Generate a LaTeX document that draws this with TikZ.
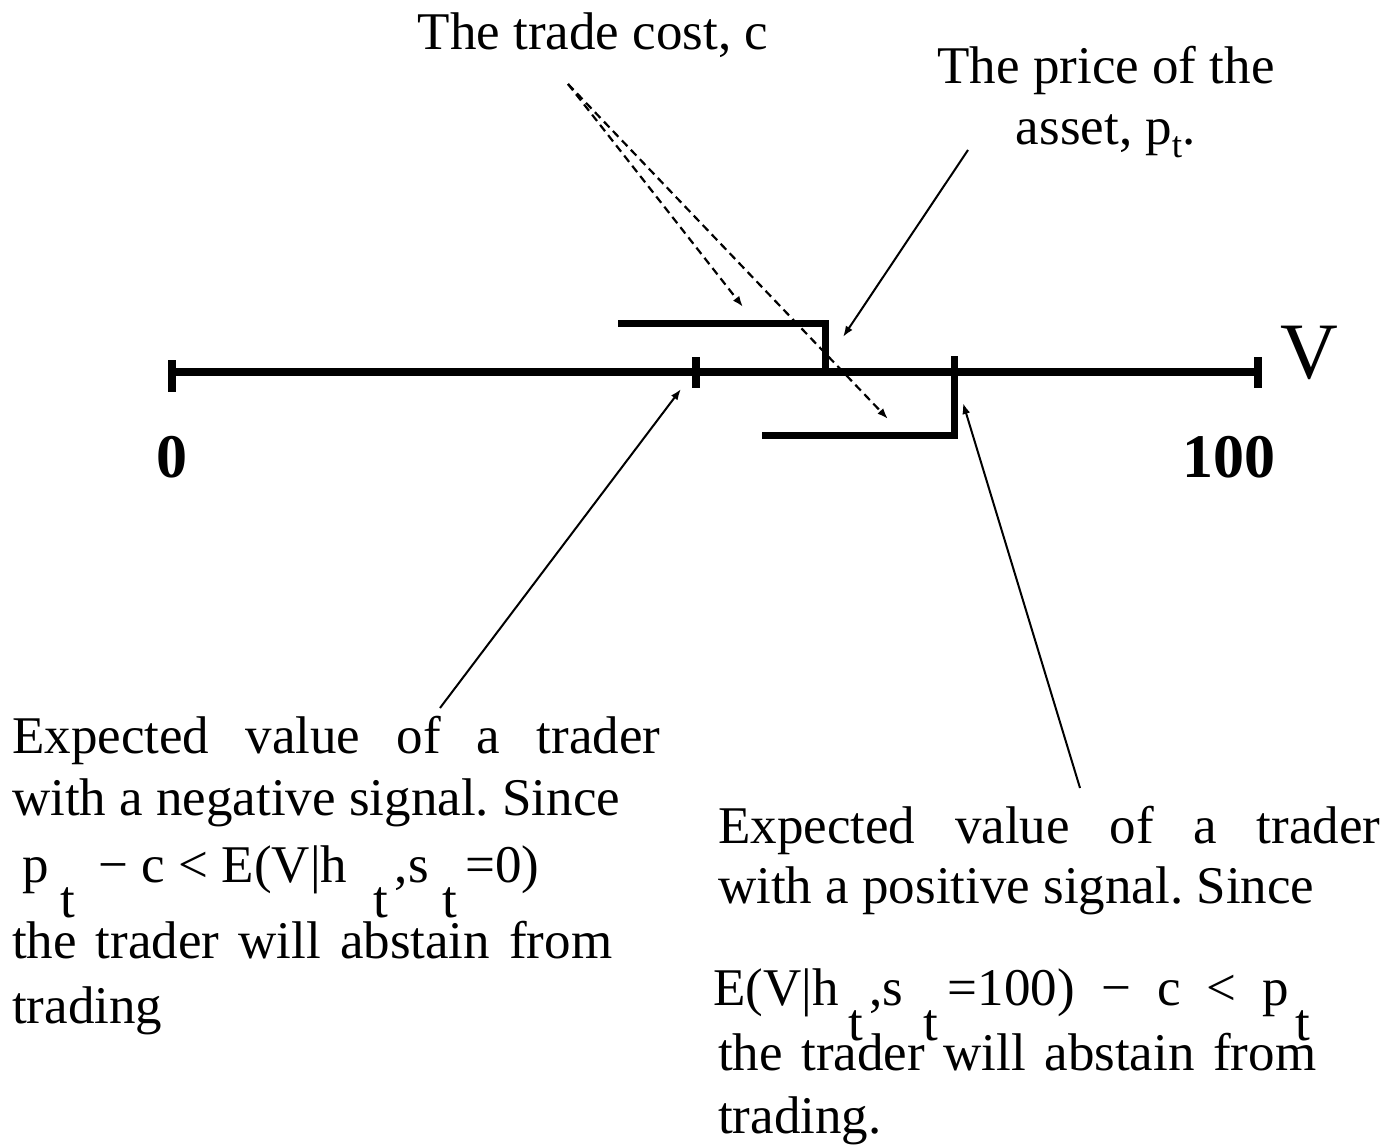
\documentclass[tikz,border=0pt]{standalone}
\usepackage{fontspec}
\setmainfont{Liberation Serif}
\usetikzlibrary{arrows.meta, positioning}

% lowered subscript t, as printed in the slide
\newcommand{\lowt}{\raisebox{-35pt}[0pt][0pt]{t}}

\begin{document}
\frenchspacing
\begin{tikzpicture}[
        x=1pt, y=-1pt,
        axisline/.style={line width=7.5pt},
        bracket/.style={line width=7pt, line join=miter},
        tickmark/.style={line width=8pt},
        pointer/.style={line width=2pt, -{Latex[length=11pt,width=8pt]}},
        costptr/.style={pointer, line width=2.2pt, dash pattern=on 8pt off 5pt},
        lbl/.style={font=\fontsize{53}{62}\selectfont, inner sep=0pt},
        numlbl/.style={font=\fontsize{62}{70}\selectfont\bfseries, inner sep=0pt},
        vlbl/.style={font=\fontsize{80}{90}\selectfont, inner sep=0pt}
    ]
        \useasboundingbox (0,0) rectangle (1400,1145);

        % Value axis
        \coordinate (zero) at (172,372);
        \coordinate (hundred) at (1258,372);
        \coordinate (negval) at (696,372);
        \draw[axisline] (zero) -- (hundred);
        \draw[tickmark] ([yshift=12pt]zero) -- ([yshift=-20pt]zero);
        \draw[tickmark] ([yshift=15pt]hundred) -- ([yshift=-16pt]hundred);
        \draw[tickmark] ([yshift=15pt]negval) -- ([yshift=-16pt]negval);

        % Brackets: price minus cost, and expected value minus cost
        \draw[bracket] (618,323) -- (825,323) -- (825,372);
        \draw[bracket] (762,435) -- (954,435) -- (954,356);

        % Axis labels
        \node[numlbl, anchor=base] (lo) at (172,477) {0};
        \node[numlbl, anchor=base] (hi) at (1229,477) {100};
        \node[vlbl, anchor=base west] (vname) at (1280,378) {V};

        % Top labels
        \node[lbl, anchor=base] (cost) at (593,50) {The trade cost, c};
        \node[lbl, anchor=base, align=center] (price) at (1106,145) {The price of the\\asset, p\textsubscript{t}.};

        % Bottom labels (base = last line)
        \node[lbl, anchor=base west, align=left] (negsig) at (12,1023) {%
            \makebox[648pt][s]{Expected value of a trader}\\
            with a negative signal. Since\\[5pt]
            \hspace*{10pt}p\hspace{12pt}\lowt\hspace{10pt} − c < E(V|h\hspace{26pt}\lowt\hspace{7pt},s\hspace{14pt}\lowt\hspace{8pt}=0)\\[14pt]
            \makebox[600pt][s]{the trader will abstain from}\\[3pt]
            trading};
        \node[lbl, anchor=base west, align=left] (possig) at (718,1133) {%
            \makebox[662pt][s]{Expected value of a trader}\\[-2pt]
            with a positive signal. Since\\[40pt]
            \hspace*{-5pt}\makebox[597pt][s]{E(V|h\hspace{10pt}\lowt\hspace{6pt},s\hspace{20pt}\lowt\hspace{10pt}=100) − c < p\hspace{6pt}\lowt}\\[3pt]
            \makebox[598pt][s]{the trader will abstain from}\\[1pt]
            trading.};

        % Pointer ends
        \coordinate (costfoot) at (568,84);
        \coordinate (costtip) at (743,307);
        \coordinate (costtip2) at (888,419);
        \coordinate (pricefoot) at (968,150);
        \coordinate (pricetip) at (843,337);
        \coordinate (negfoot) at (440,708);
        \coordinate (negtip) at (681,389);
        \coordinate (posfoot) at (1080,788);
        \coordinate (postip) at (963,403);

        % Pointers
        \draw[costptr] (costfoot) -- (costtip);
        \draw[costptr] (costfoot) -- (costtip2);
        \draw[pointer] (pricefoot) -- (pricetip);
        \draw[pointer] (negfoot) -- (negtip);
        \draw[pointer] (posfoot) -- (postip);
    \end{tikzpicture}
\end{document}
